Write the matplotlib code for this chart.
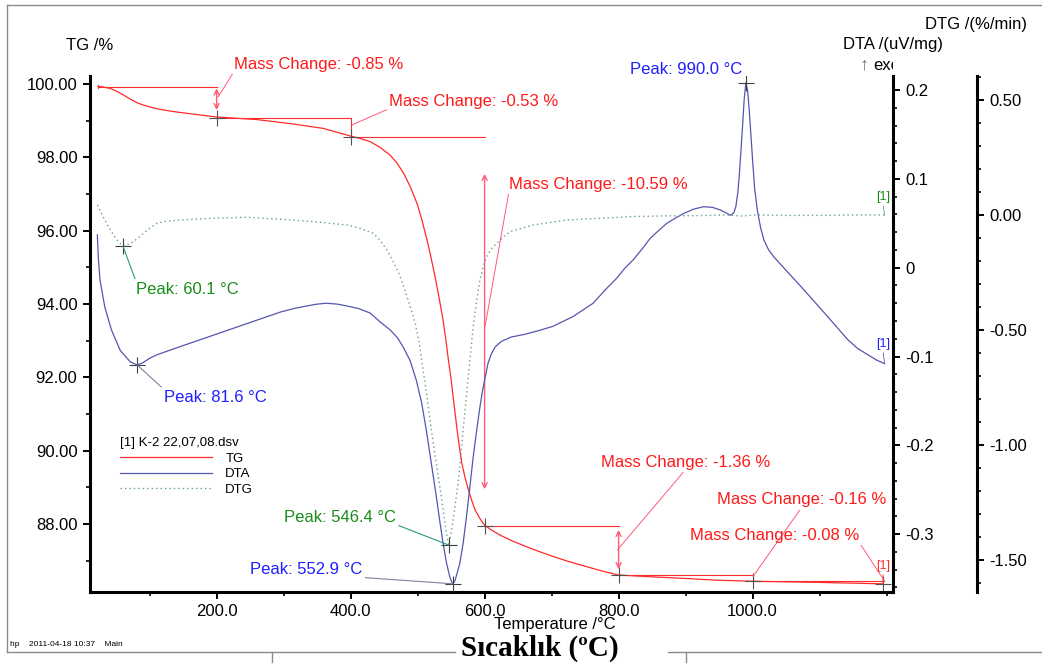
import matplotlib
matplotlib.use("Agg")
import matplotlib.pyplot as plt
from matplotlib.ticker import MultipleLocator, FixedLocator, FuncFormatter
from matplotlib.transforms import Bbox, TransformedBbox
from matplotlib.lines import Line2D

plt.rcParams['font.family'] = ['Liberation Sans', 'DejaVu Sans']
plt.rcParams['axes.unicode_minus'] = False

# ---- data ----
tg_temp = [23, 30, 41, 50, 61, 70, 81, 90, 101, 115, 135, 160, 200, 260, 310, 359,
           402, 415, 429, 444, 459, 469, 479, 489, 499, 506, 514, 520, 526, 532,
           538, 542, 546, 550, 553, 556, 559, 562, 566, 571, 576, 581, 586, 593,
           600, 610, 623, 640, 660, 680, 700, 725, 750, 775, 800, 850, 896, 946,
           1000, 1096, 1195]
tg_mass = [99.93, 99.92, 99.88, 99.81, 99.70, 99.60, 99.49, 99.43, 99.37, 99.31,
           99.25, 99.19, 99.10, 99.03, 98.92, 98.79, 98.57, 98.51, 98.43, 98.27,
           98.06, 97.85, 97.57, 97.20, 96.75, 96.32, 95.75, 95.27, 94.75, 94.18,
           93.56, 93.05, 92.47, 91.95, 91.47, 91.02, 90.56, 90.15, 89.66, 89.25,
           88.93, 88.63, 88.38, 88.15, 87.97, 87.84, 87.70, 87.55, 87.40, 87.26,
           87.13, 86.98, 86.85, 86.72, 86.61, 86.56, 86.52, 86.47, 86.44, 86.41,
           86.37]

dta_temp = [22, 23.4, 26, 33, 43, 56, 71, 81.6, 90, 100, 111, 145, 195, 245, 295,
            315, 335, 350, 364, 380, 394, 412, 429, 444, 459, 470, 479, 489, 498,
            506, 513, 520, 528, 533, 538, 543, 548, 551, 552.9, 556, 563, 568, 573,
            578, 583, 588, 593, 597, 601, 605, 610, 616, 625, 640, 660, 680, 702,
            732, 762, 780, 797, 810, 822, 835, 847, 860, 872, 885, 897, 912, 927,
            940, 952, 960, 967, 972, 975, 978, 980, 982.5, 985, 987.5, 990, 992.5,
            995, 997.5, 1000, 1003, 1007, 1012, 1017, 1024, 1032, 1050, 1072, 1092,
            1112, 1127, 1142, 1157, 1172, 1185, 1197]
dta_val = [0.037, 0.011, -0.014, -0.044, -0.070, -0.093, -0.106, -0.1096, -0.107,
           -0.102, -0.098, -0.089, -0.076, -0.063, -0.050, -0.046, -0.043, -0.041,
           -0.040, -0.041, -0.043, -0.046, -0.051, -0.061, -0.070, -0.079, -0.090,
           -0.105, -0.1265, -0.152, -0.183, -0.218, -0.258, -0.285, -0.310, -0.332,
           -0.348, -0.354, -0.356, -0.352, -0.333, -0.310, -0.280, -0.247, -0.213,
           -0.184, -0.157, -0.138, -0.123, -0.108, -0.097, -0.089, -0.083, -0.078,
           -0.075, -0.071, -0.066, -0.055, -0.040, -0.025, -0.012, 0.000, 0.009,
           0.021, 0.033, 0.042, 0.050, 0.056, 0.061, 0.066, 0.0687, 0.068, 0.065,
           0.062, 0.059, 0.062, 0.0687, 0.085, 0.1025, 0.130, 0.1588, 0.190, 0.208,
           0.200, 0.1776, 0.150, 0.1213, 0.090, 0.065, 0.045, 0.031, 0.020, 0.012,
           -0.003, -0.021, -0.038, -0.055, -0.068, -0.081, -0.091, -0.098, -0.104,
           -0.108]

dtg_temp = [22, 33, 46, 53, 60.1, 68, 76, 91, 100, 111, 125, 145, 195, 245, 295,
            345, 394, 414, 434, 444, 454, 464, 474, 482, 489, 496, 502, 507, 514,
            519, 524, 529, 534, 538, 541, 544, 546.4, 549, 553, 557, 561, 565, 568,
            572, 576, 583, 588, 593, 598, 603, 610, 618, 628, 638, 673, 722, 772,
            822, 870, 920, 960, 985, 1000, 1050, 1100, 1150, 1197]
dtg_val = [0.043, -0.022, -0.087, -0.115, -0.135, -0.128, -0.116, -0.080, -0.058,
           -0.036, -0.027, -0.022, -0.0145, -0.010, -0.019, -0.029, -0.0435, -0.058,
           -0.080, -0.110, -0.152, -0.205, -0.268, -0.335, -0.399, -0.465, -0.55,
           -0.65, -0.79, -0.90, -1.007, -1.10, -1.196, -1.28, -1.34, -1.40, -1.435,
           -1.40, -1.326, -1.24, -1.152, -1.03, -0.935, -0.81, -0.69, -0.486,
           -0.375, -0.283, -0.225, -0.181, -0.148, -0.123, -0.095, -0.0725, -0.0435,
           -0.022, -0.0145, -0.007, -0.004, -0.003, 0.0, -0.005, 0.0, -0.002,
           -0.002, 0.0, 0.0]

# mass-change evaluation steps
step_temp = [23, 200, 400, 600, 800, 1000, 1195]
step_start = 99.93
mass_change = [-0.85, -0.53, -10.59, -1.36, -0.16, -0.08]
# label anchor (T, TG) and where the pointer line ends (T, TG)
mc_label_T = [226, 457.8, 636.4, 773.7, 946.9, 906.6]
mc_label_y = [100.545, 99.536, 97.27, 89.69, 88.656, 87.70]
mc_point_T = [202, 401.6, 600.6, 798, 1001, 1197.6]
mc_point_y = [99.64, 98.88, 93.38, 87.29, 86.58, 86.43]
mc_relpos = [(0, 0), (0, 0), (0, 0), (0.5, 0), (0.5, 0), (1, 0)]
# double arrows: step index, upper end, lower end
arrow_step = [0, 2, 3]
arrow_hi = [99.88, 97.55, 87.84]
arrow_lo = [99.29, 88.95, 86.77]

# peaks
dta_peak_T = [81.6, 552.9, 990.0]
dta_peak_v = [-0.1096, -0.356, 0.208]
dta_lab_T = [121.5, 250.1, 817]
dta_lab_v = [-0.1456, -0.3404, 0.2227]
dtg_peak_T = [60.1, 546.4]
dtg_peak_v = [-0.135, -1.435]
dtg_lab_T = [79.7, 300.6]
dtg_lab_v = [-0.322, -1.313]

RED = '#ff2a2a'
BLUE = '#5555b0'
DTGC = '#6a9e90'
BLUE_T = '#1f1fff'
GREEN_T = '#1a8c1a'
PINK = '#ff5a78'

W, H = 1042, 664
fig = plt.figure(figsize=(W / 100, H / 100), dpi=100)
ax = fig.add_axes([90 / W, 72 / H, 803 / W, 516 / H])
ax_dta = ax.twinx()
ax_dtg = ax.twinx()

tg_line, = ax.plot(tg_temp, tg_mass, color=RED, lw=0.9)
dta_line, = ax_dta.plot(dta_temp, dta_val, color=BLUE, lw=0.9)
dtg_line, = ax_dtg.plot(dtg_temp, dtg_val, color=DTGC, lw=1.0, ls=(0, (1, 2.2)))

ax.set_xlim(11, 1209.6)
ax.set_ylim(86.147, 100.218)
ax_dta.set_ylim(-0.3652, 0.2159)
ax_dtg.set_ylim(-1.639, 0.604)

# spines / ticks
for a in (ax, ax_dta, ax_dtg):
    for s in a.spines.values():
        s.set_visible(False)
        s.set_linewidth(2.2)
    a.tick_params(which='major', length=5, width=1.4, labelsize=12, pad=4)
    a.tick_params(which='minor', length=3, width=1.2)
ax.spines['left'].set_visible(True)
ax.spines['bottom'].set_visible(True)
ax_dta.spines['right'].set_visible(True)
ax_dtg.spines['right'].set_visible(True)
ax_dtg.spines['right'].set_position(('axes', (977 - 90) / 803))

ax.xaxis.set_major_locator(FixedLocator([200, 400, 600, 800, 1000]))
ax.xaxis.set_major_formatter(FuncFormatter(lambda v, p: '%.1f' % v))
ax.xaxis.set_minor_locator(MultipleLocator(100))
ax.yaxis.set_major_locator(MultipleLocator(2))
ax.yaxis.set_minor_locator(MultipleLocator(1))
ax.yaxis.set_major_formatter(FuncFormatter(lambda v, p: '%.2f' % v))

ax_dta.yaxis.set_major_locator(MultipleLocator(0.1))
ax_dta.yaxis.set_minor_locator(MultipleLocator(0.02))
ax_dta.yaxis.set_major_formatter(
    FuncFormatter(lambda v, p: '0' if abs(v) < 1e-9 else '%.1f' % v))
ax_dtg.yaxis.set_major_locator(MultipleLocator(0.5))
ax_dtg.yaxis.set_minor_locator(MultipleLocator(0.1))
ax_dtg.yaxis.set_major_formatter(FuncFormatter(lambda v, p: '%.2f' % (v + 0.0)))

# mass-change construction lines
levels = [step_start]
for d in mass_change:
    levels.append(levels[-1] + d)
for i in range(len(mass_change)):
    ax.plot([step_temp[i], step_temp[i + 1]], [levels[i], levels[i]], color=RED, lw=0.8)
    if i not in arrow_step:
        ax.plot([step_temp[i + 1]] * 2, [levels[i], levels[i + 1]], color=RED, lw=0.8)
ax.plot([step_temp[0]] * 2, [levels[0] - 0.05, levels[0] + 0.05], color=RED, lw=0.8)
for k, i in enumerate(arrow_step):
    ax.annotate('', xy=(step_temp[i + 1], arrow_lo[k]), xytext=(step_temp[i + 1], arrow_hi[k]),
                arrowprops=dict(arrowstyle='<->', color=PINK, lw=1.0, shrinkA=0, shrinkB=0,
                                mutation_scale=9))
ax.plot(step_temp[1:], levels[1:], ls='none', marker='+', ms=11, mew=0.8, color='#505050')

for i in range(len(mass_change)):
    ax.annotate('Mass Change: %.2f %%' % mass_change[i], xy=(mc_point_T[i], mc_point_y[i]),
                xytext=(mc_label_T[i], mc_label_y[i]), ha='left', va='center',
                fontsize=12, color='#ff1a1a',
                arrowprops=dict(arrowstyle='-', color=PINK, lw=0.7, shrinkA=0, shrinkB=0,
                                relpos=mc_relpos[i]))

# peak labels
dta_rel = [(0, 1), (1, 0)]
for i in range(len(dta_peak_T)):
    ap = None
    if i < 2:
        ap = dict(arrowstyle='-', color='#8080a0', lw=0.8, shrinkA=0, shrinkB=0, relpos=dta_rel[i])
    ax_dta.annotate('Peak: %.1f °C' % dta_peak_T[i], xy=(dta_peak_T[i], dta_peak_v[i]),
                    xytext=(dta_lab_T[i], dta_lab_v[i]), ha='left', va='center',
                    fontsize=12, color=BLUE_T, arrowprops=ap)
ax_dta.plot(dta_peak_T, dta_peak_v, ls='none', marker='+', ms=12, mew=0.8, color='#404040')

dtg_rel = [(0, 1), (1, 0)]
for i in range(len(dtg_peak_T)):
    ax_dtg.annotate('Peak: %.1f °C' % dtg_peak_T[i], xy=(dtg_peak_T[i], dtg_peak_v[i]),
                    xytext=(dtg_lab_T[i], dtg_lab_v[i]), ha='left', va='center',
                    fontsize=12, color=GREEN_T,
                    arrowprops=dict(arrowstyle='-', color='#2a9a7a', lw=0.8, shrinkA=0,
                                    shrinkB=0, relpos=dtg_rel[i]))
ax_dtg.plot(dtg_peak_T, dtg_peak_v, ls='none', marker='+', ms=12, mew=0.8, color='#404040')

# curve end tags
end_kw = dict(ha='center', va='center', fontsize=9)
ax.annotate('[1]', xy=(tg_temp[-1], tg_mass[-1]), xytext=(1194.6, 86.86), color=RED,
            arrowprops=dict(arrowstyle='-', color=RED, lw=0.6, shrinkA=0, shrinkB=0,
                            relpos=(0.5, 0)), **end_kw)
ax_dta.annotate('[1]', xy=(dta_temp[-1], dta_val[-1]), xytext=(1194.6, -0.086), color=BLUE_T,
                arrowprops=dict(arrowstyle='-', color=BLUE, lw=0.6, shrinkA=0, shrinkB=0,
                                relpos=(0.5, 0)), **end_kw)
ax_dtg.annotate('[1]', xy=(dtg_temp[-1], dtg_val[-1]), xytext=(1194.6, 0.078), color=GREEN_T,
                arrowprops=dict(arrowstyle='-', color=DTGC, lw=0.6, shrinkA=0, shrinkB=0,
                                relpos=(0.5, 0)), **end_kw)

leg = ax_dtg.legend([tg_line, dta_line, dtg_line], ['TG', 'DTA', 'DTG'],
                    title='[1] K-2 22,07,08.dsv', loc='upper left',
                    bbox_to_anchor=(0.037, 0.30), frameon=False, fontsize=9.5,
                    title_fontsize=9.5, handlelength=7, handletextpad=1.0,
                    labelspacing=0.25, alignment='left', borderaxespad=0, borderpad=0)

# axis titles
fig.text(90 / W, 1 - 45 / H, 'TG /%', ha='center', va='center', fontsize=12)
fig.text(843 / W, 1 - 45 / H, 'DTA /(uV/mg)', ha='left', va='center', fontsize=12)
fig.text(1027 / W, 1 - 25 / H, 'DTG /(%/min)', ha='right', va='center', fontsize=12)
fig.text(860 / W, 1 - 65 / H, '↑', ha='left', va='center', fontsize=13, color='#707070')
exo = fig.text(873 / W, 1 - 65 / H, 'exo', ha='left', va='center', fontsize=12)
exo.set_clip_box(TransformedBbox(Bbox([[0, 0], [893 / W, 1]]), fig.transFigure))
exo.set_clip_on(True)

fig.text(555 / W, 1 - 625 / H, 'Temperature /°C', ha='center', va='center', fontsize=12)
fig.text(540 / W, 1 - 648 / H, 'Sıcaklık (ºC)', ha='center', va='center', fontsize=21,
         family=['Liberation Serif', 'DejaVu Serif'], weight='bold')
fig.text(10 / W, 1 - 645 / H, 'hp    2011-04-18 10:37    Main', ha='left', va='center',
         fontsize=6)

# page frame
frame = dict(transform=fig.transFigure, color='#8a8a8a', lw=1.0)
fig.add_artist(Line2D([7 / W, 7 / W], [1 - 5 / H, 1 - 652 / H], **frame))
fig.add_artist(Line2D([7 / W, 1], [1 - 5 / H, 1 - 5 / H], **frame))
fig.add_artist(Line2D([7 / W, 455 / W], [1 - 652 / H, 1 - 652 / H], **frame))
fig.add_artist(Line2D([668 / W, 1], [1 - 652 / H, 1 - 652 / H], **frame))
fig.add_artist(Line2D([272 / W, 272 / W], [1 - 652 / H, 1 - 662 / H], **frame))
fig.add_artist(Line2D([686 / W, 686 / W], [1 - 652 / H, 1 - 662 / H], **frame))

fig.savefig('out.png', dpi=100)
